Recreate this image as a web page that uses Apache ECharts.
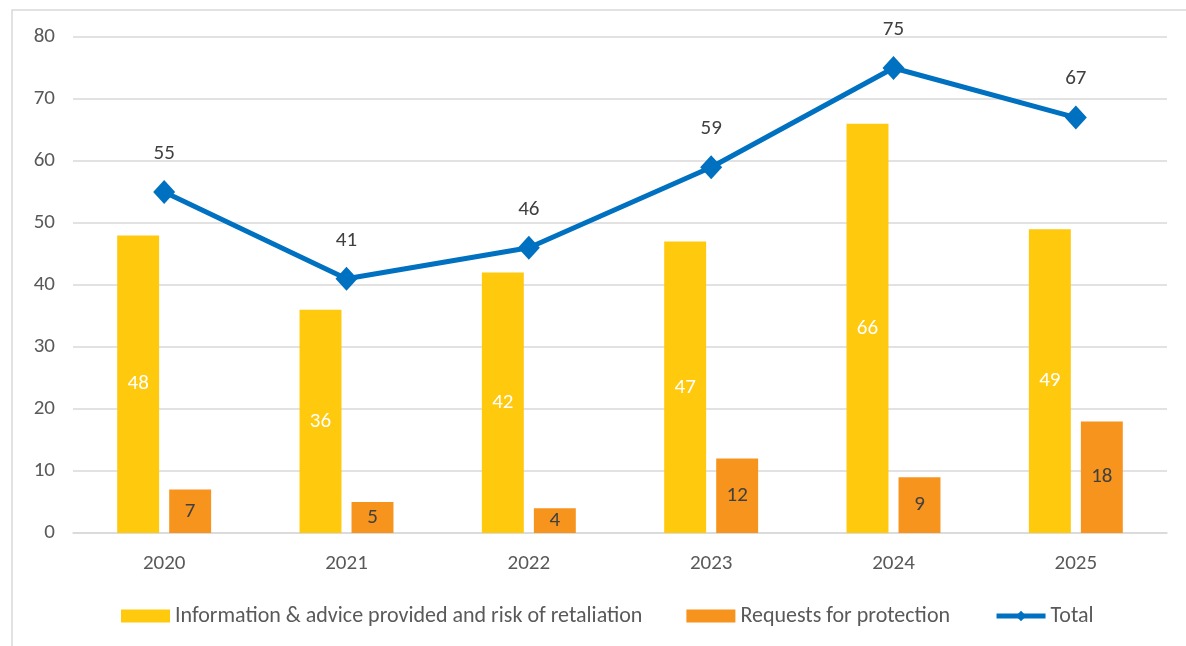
<!DOCTYPE html>
<html>
<head>
<meta charset="utf-8">
<script src="https://cdn.jsdelivr.net/npm/echarts@6/dist/echarts.min.js"></script>
<style>
  html, body { margin: 0; padding: 0; background: #fff; }
  #chart { width: 1186px; height: 646px; }
</style>
</head>
<body>
<div id="chart"></div>
<script>
// Annual counts by case type
const years = ['2020', '2021', '2022', '2023', '2024', '2025'];
const infoAdvice = [48, 36, 42, 47, 66, 49];
const protectionRequests = [7, 5, 4, 12, 9, 18];
const totals = [55, 41, 46, 59, 75, 67];

const seriesNames = [
  'Information & advice provided and risk of retaliation',
  'Requests for protection',
  'Total'
];

const FONT = 'Carlito, Calibri, Lato, sans-serif';
const TEXT = '#595959';
const FS = 21;

const chart = echarts.init(document.getElementById('chart'));
chart.setOption({
  animation: false,
  textStyle: { fontFamily: FONT },
  graphic: [{
    type: 'rect',
    shape: { x: 12, y: 10, width: 1300, height: 800 },
    style: { fill: 'none', stroke: '#d9d9d9', lineWidth: 1.5 },
    silent: true
  }],
  grid: { left: 73, right: 19, top: 37, bottom: 113 },
  legend: {
    top: 600,
    left: 116,
    itemWidth: 49,
    itemHeight: 13,
    itemGap: 44,
    textStyle: { color: TEXT, fontSize: 22, fontFamily: FONT },
    data: [
      { name: seriesNames[0], icon: 'rect' },
      { name: seriesNames[1], icon: 'rect' },
      { name: seriesNames[2], lineStyle: { width: 5 } }
    ]
  },
  xAxis: {
    type: 'category',
    data: years,
    axisLine: { lineStyle: { color: '#d9d9d9', width: 1.5 } },
    axisTick: { show: false },
    axisLabel: { color: TEXT, fontSize: FS, margin: 20, fontFamily: FONT }
  },
  yAxis: {
    type: 'value',
    min: 0,
    max: 80,
    interval: 10,
    axisLine: { show: false },
    axisTick: { show: false },
    splitLine: { lineStyle: { color: '#d9d9d9', width: 1.5 } },
    axisLabel: { color: TEXT, fontSize: FS, margin: 18, fontFamily: FONT }
  },
  series: [
    {
      name: seriesNames[0],
      type: 'bar',
      data: infoAdvice,
      barWidth: '23%',
      barGap: '24%',
      itemStyle: { color: '#FFC90E' },
      label: { show: true, position: 'inside', color: '#ffffff', fontSize: FS, fontFamily: FONT }
    },
    {
      name: seriesNames[1],
      type: 'bar',
      data: protectionRequests,
      barWidth: '23%',
      itemStyle: { color: '#F7941D' },
      label: { show: true, position: 'inside', color: '#404040', fontSize: FS, fontFamily: FONT }
    },
    {
      name: seriesNames[2],
      type: 'line',
      data: totals,
      symbol: 'diamond',
      symbolSize: [22, 24],
      lineStyle: { color: '#0070C0', width: 5 },
      itemStyle: { color: '#0070C0' },
      label: { show: true, position: 'top', distance: 16, color: '#404040', fontSize: FS, fontFamily: FONT }
    }
  ]
});
</script>
</body>
</html>
